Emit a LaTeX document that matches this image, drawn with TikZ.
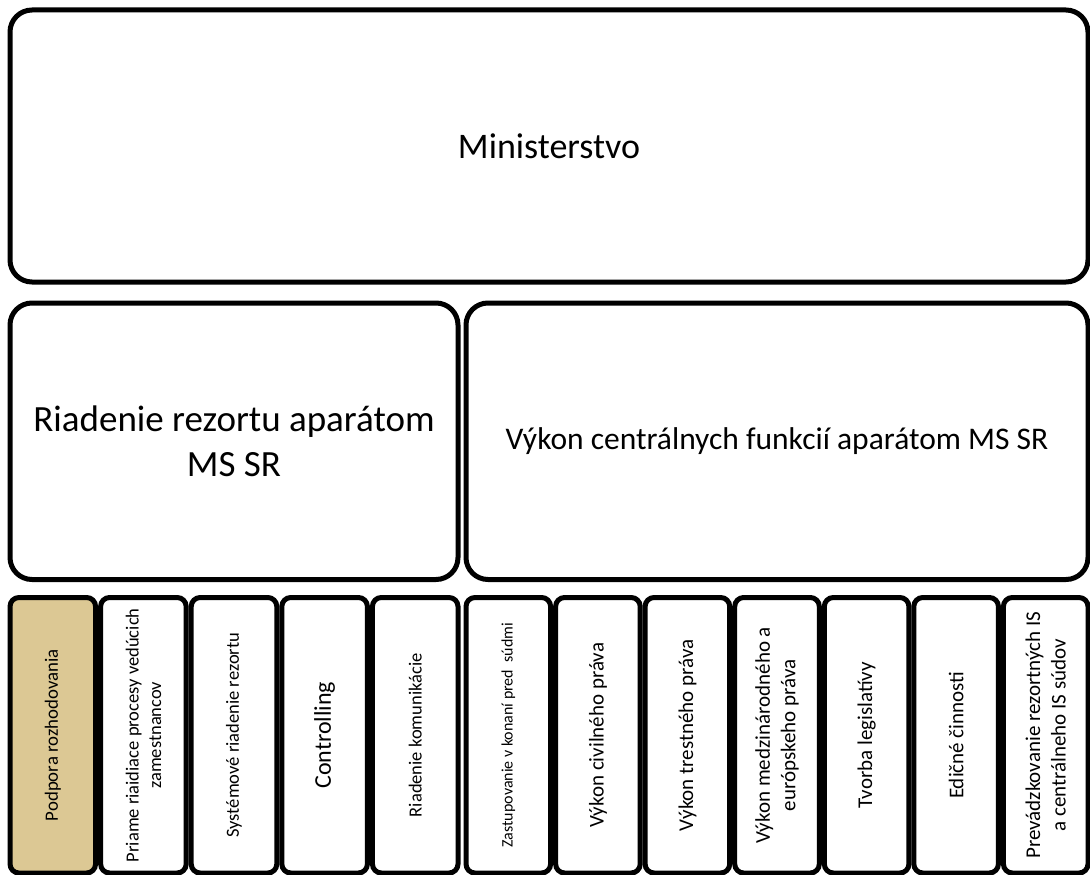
\documentclass[tikz,border=0pt]{standalone}
\usepackage{fontspec}
\setmainfont{Carlito}
\definecolor{papyrus}{RGB}{220,200,148}
\newcommand{\fsz}[2]{\fontsize{#1}{#2}\selectfont}

\begin{document}
\begin{tikzpicture}[x=1pt, y=-1pt,
	blok/.style={draw, line width=5pt, rounded corners=22pt, inner sep=0pt, outer sep=0pt, align=center},
	bunka/.style={draw, fill=white, line width=5pt, rounded corners=9pt, rotate=90, minimum width=275.5pt, inner sep=0pt, outer sep=0pt, align=center, font=\fsz{18.5}{22.5}},
	lava/.style={bunka, minimum height=85.6pt},
	prava/.style={bunka, minimum height=84.6pt, font=\fsz{21}{25.5}}]
	\useasboundingbox (0,0) rectangle (1090,875);
	% horny riadok
	\node[blok, minimum width=1078pt, minimum height=272pt, font=\fsz{36}{44}] (min) at (549,146) {Ministerstvo};
	\node[blok, minimum width=448pt, minimum height=276.5pt, font=\fsz{37}{45}] (r) at (234,441.25) {Riadenie rezortu aparátom\\MS SR};
	\node[blok, minimum width=622pt, minimum height=276.5pt, font=\fsz{31.5}{38}] (v) at (777,441.25) {Výkon centrálnych funkcií aparátom MS SR};
	% spodny riadok
	\node[lava, fill=papyrus, font=\fsz{18.8}{23}] (b-1) at (52.8,735.25) {Podpora rozhodovania};
	\node[lava] (b-2) at (143.4,735.25) {Priame riaidiace procesy vedúcich\\zamestnancov};
	\node[lava] (b-3) at (234,735.25) {Systémové riadenie rezortu};
	\node[lava, font=\fsz{24}{29}] (b-4) at (324.6,735.25) {Controlling};
	\node[lava] (b-5) at (415.2,735.25) {Riadenie komunikácie};
	\node[prava, font=\fsz{16}{19.5}] (b-6) at (508.3,735.25) {Zastupovanie v konaní pred~ súdmi};
	\node[prava] (b-7) at (597.9,735.25) {Výkon civilného práva};
	\node[prava] (b-8) at (687.4,735.25) {Výkon trestného práva};
	\node[prava] (b-9) at (777,735.25) {Výkon medzinárodného a\\európskeho práva};
	\node[prava] (b-10) at (866.6,735.25) {Tvorba legislatívy};
	\node[prava] (b-11) at (956.1,735.25) {Edičné činnosti};
	\node[prava] (b-12) at (1045.7,735.25) {Prevádzkovanie rezortných IS\\a centrálneho IS súdov};
\end{tikzpicture}
\end{document}
